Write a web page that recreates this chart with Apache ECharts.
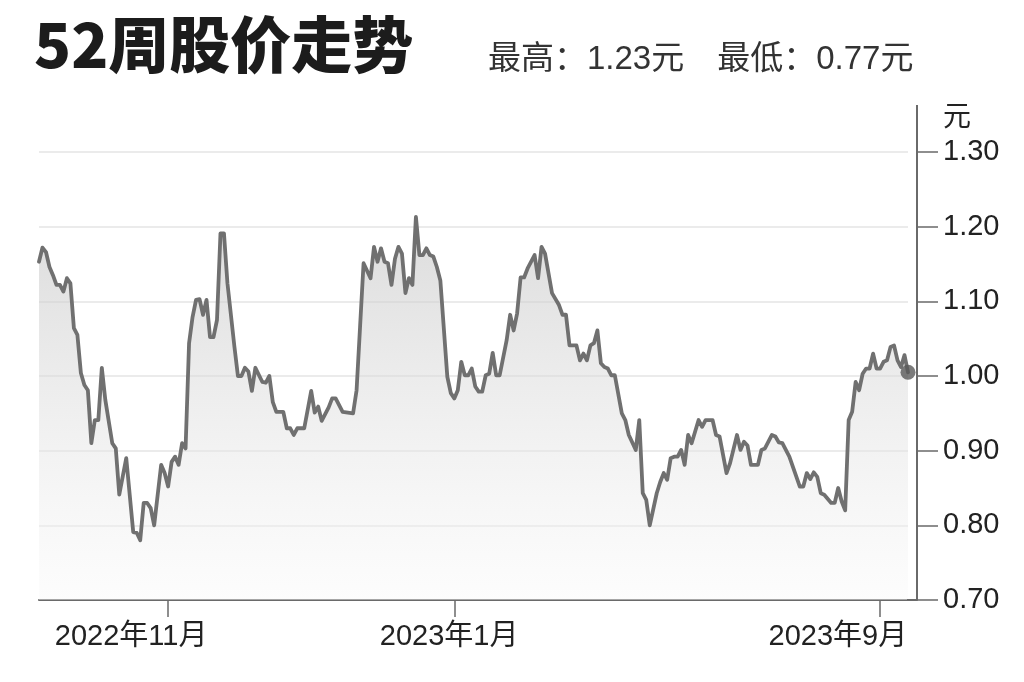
<!DOCTYPE html>
<html>
<head>
<meta charset="utf-8">
<script src="https://cdn.jsdelivr.net/npm/echarts@6/dist/echarts.min.js"></script>
<style>
  html, body { margin: 0; padding: 0; background: #ffffff; }
  #chart { width: 1024px; height: 682px; }
</style>
</head>
<body>
<div id="chart"></div>
<script>
// ---- data ----
const titleText = '52周股价走势';
const highLowLabels = ['最高', '最低'];
const highLowValues = ['1.23', '0.77'];
const unitLabel = '元';

// trading-day index within the 52-week window
const tradingDay = [
  0,1,2,3,4,5,6,7,8,9,10,11,12,13,14,15,16,17,18,19,21,22,23,25,27,28,29,30,31,32,33,35,36,37,38,39,40,41,42,
  43,44,45,46,47,48,49,50,51,52,53,54,56,57,58,59,60,61,62,64,65,66,67,68,70,71,72,73,74,76,78,79,80,81,83,84,85,87,
  90,91,92,93,95,96,97,98,99,100,101,102,103,104,105,106,107,108,109,110,111,112,113,114,115,117,118,119,120,121,
  122,123,124,125,126,127,128,129,130,131,132,134,135,136,137,138,139,140,142,143,144,145,147,149,150,151,152,154,
  155,156,157,158,159,160,161,162,163,164,165,167,168,169,171,172,173,174,175,177,178,179,180,181,182,183,184,185,
  186,187,189,190,191,193,194,195,197,198,200,201,202,203,204,206,207,208,210,211,212,213,214,215,218,219,220,221,
  222,223,224,225,227,228,229,230,231,232,233,234,235,236,237,238,239,240,241,242,243,244,245,246,247,248,249
];
// closing price, 元
const closePrice = [
  1.153,1.172,1.166,1.146,1.135,1.122,1.122,1.113,1.131,1.124,1.064,1.055,1.004,0.988,0.981,0.910,0.941,0.941,1.011,0.968,0.910,0.903,0.841,0.890,0.791,0.790,0.780,0.830,0.830,0.823,0.800,0.881,0.870,0.852,0.885,0.892,0.881,0.910,0.903,
  1.044,1.079,1.102,1.103,1.082,1.102,1.052,1.052,1.075,1.191,1.191,1.124,1.039,1.000,1.000,1.011,1.006,0.980,1.011,0.992,0.991,1.000,0.965,0.952,0.952,0.930,0.930,0.921,0.930,0.930,0.980,0.951,0.959,0.940,0.958,0.970,0.970,0.952,
  0.950,0.981,1.066,1.151,1.131,1.173,1.153,1.171,1.153,1.151,1.122,1.157,1.173,1.164,1.111,1.131,1.122,1.213,1.162,1.162,1.171,1.162,1.160,1.146,1.128,0.999,0.977,0.970,0.981,1.019,
  1.001,1.001,1.010,0.986,0.979,0.979,1.001,1.003,1.031,1.001,1.001,1.048,1.082,1.061,1.084,1.132,1.132,1.144,1.162,1.131,1.173,1.164,1.111,1.095,1.082,1.082,1.041,1.041,
  1.021,1.030,1.021,1.041,1.044,1.061,1.017,1.012,1.010,1.001,1.001,0.950,0.941,0.921,0.901,0.941,0.843,0.834,0.800,0.843,0.858,0.870,0.861,0.890,0.892,0.892,0.901,0.881,
  0.921,0.910,0.941,0.932,0.941,0.941,0.921,0.919,0.870,0.883,0.921,0.901,0.912,0.907,0.881,0.881,0.901,0.903,0.921,0.919,0.911,0.910,0.901,0.892,0.852,0.852,0.870,0.862,
  0.871,0.865,0.843,0.841,0.830,0.830,0.850,0.832,0.820,0.941,0.952,0.992,0.981,1.003,1.010,1.010,1.030,1.010,1.010,1.019,1.021,1.039,1.041,1.021,1.012,1.028,1.005
];

// x-axis tick marks and their month labels
const tickDays = [37, 119, 241];
const labelDays = [26.4, 117.5, 228.9];
const monthLabels = ['2022年11月', '2023年1月', '2023年9月'];

// y-axis scale
const yMin = 0.70;
const yMax = 1.30;
const yStep = 0.10;

// ---- chart ----
const seriesData = tradingDay.map((d, i) => [d, closePrice[i]]);
const lastPoint = [[tradingDay[tradingDay.length - 1], closePrice[closePrice.length - 1]]];

const latin = "'Liberation Sans', 'Noto Sans CJK SC', sans-serif";
const chart = echarts.init(document.getElementById('chart'), null, { renderer: 'canvas' });

chart.setOption({
  backgroundColor: '#ffffff',
  animation: false,
  title: [
    {
      text: titleText,
      left: 29, top: 9,
      textStyle: { fontSize: 61, fontWeight: 900, color: '#1c1c1c', fontFamily: "'Noto Sans CJK SC', sans-serif" }
    },
    {
      text: highLowLabels[0] + '：' + highLowValues[0] + unitLabel + '　' + highLowLabels[1] + '：' + highLowValues[1] + unitLabel,
      left: 483, top: 38,
      textStyle: { fontSize: 33, fontWeight: 'normal', color: '#333333', fontFamily: latin }
    }
  ],
  grid: { left: 39, right: 116, top: 152, bottom: 82, containLabel: false },
  xAxis: {
    type: 'value',
    min: 0,
    max: tradingDay[tradingDay.length - 1],
    splitLine: { show: false },
    axisLine: { show: true, onZero: false, lineStyle: { color: '#6a6a6a', width: 2 } },
    axisTick: { show: true, customValues: tickDays, length: 17, lineStyle: { color: '#6a6a6a', width: 1.5 } },
    axisLabel: {
      customValues: labelDays,
      margin: 22,
      fontSize: 29,
      color: '#222222',
      fontFamily: latin,
      formatter: function (v) {
        const i = labelDays.findIndex(x => Math.abs(x - v) < 1e-6);
        return i >= 0 ? monthLabels[i] : '';
      }
    }
  },
  yAxis: {
    type: 'value',
    position: 'right',
    offset: 9,
    min: yMin,
    max: yMax,
    interval: yStep,
    name: unitLabel,
    nameLocation: 'end',
    nameGap: 20,
    nameTextStyle: { fontSize: 28, color: '#222222', align: 'left', padding: [0, 0, 0, 26], fontFamily: latin },
    axisLine: { show: true, onZero: false, lineStyle: { color: '#6a6a6a', width: 2 } },
    axisTick: { show: true, inside: false, length: 21, lineStyle: { color: '#6a6a6a', width: 1.5 } },
    axisLabel: {
      margin: 26,
      fontSize: 29,
      color: '#222222',
      fontFamily: latin,
      formatter: v => v.toFixed(2)
    },
    splitLine: { show: true, lineStyle: { color: '#ebebeb', width: 2 } }
  },
  graphic: [
    { type: 'line', shape: { x1: 907, y1: 600, x2: 917, y2: 600 }, style: { stroke: '#6a6a6a', lineWidth: 2 }, z: 10 },
    { type: 'line', shape: { x1: 917, y1: 105, x2: 917, y2: 153 }, style: { stroke: '#6a6a6a', lineWidth: 2 }, z: 10 }
  ],
  series: [
    {
      type: 'line',
      data: seriesData,
      showSymbol: false,
      smooth: false,
      lineStyle: { color: '#707070', width: 3.8, join: 'round', cap: 'round' },
      areaStyle: {
        color: new echarts.graphic.LinearGradient(0, 0, 0, 1, [
          { offset: 0, color: 'rgba(196,196,196,0.85)' },
          { offset: 1, color: 'rgba(250,250,250,0.6)' }
        ])
      },
      z: 3
    },
    {
      type: 'scatter',
      data: lastPoint,
      symbol: 'circle',
      symbolSize: 15,
      itemStyle: { color: '#5a5a5a' },
      z: 5
    }
  ]
});
</script>
</body>
</html>
